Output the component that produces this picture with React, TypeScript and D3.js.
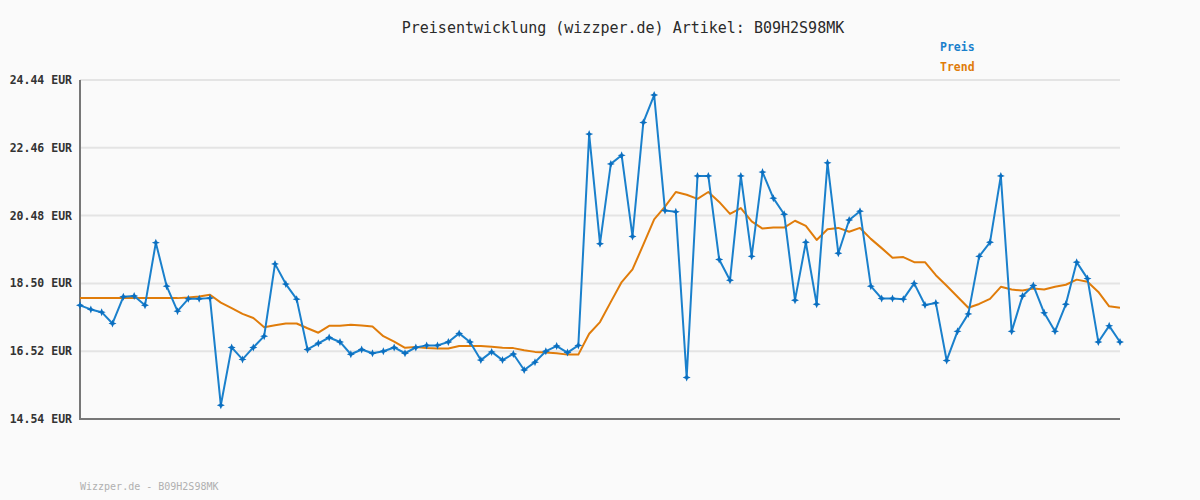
import React from "react";
import * as d3 from "d3";

const yTicks = [14.54, 16.52, 18.5, 20.48, 22.46, 24.44];

const preis = [
  17.86, 17.74, 17.66, 17.33, 18.11, 18.13, 17.86, 19.69, 18.42, 17.69,
  18.05, 18.05, 18.07, 14.94, 16.63, 16.28, 16.63, 16.96, 19.07, 18.48,
  18.04, 16.57, 16.75, 16.92, 16.79, 16.43, 16.57, 16.46, 16.52, 16.63,
  16.46, 16.63, 16.69, 16.69, 16.79, 17.04, 16.79, 16.26, 16.5, 16.26,
  16.44, 15.97, 16.2, 16.52, 16.67, 16.48, 16.69, 22.86, 19.66, 21.99,
  22.24, 19.87, 23.2, 24.0, 20.63, 20.59, 15.75, 21.64, 21.64, 19.2,
  18.59, 21.64, 19.29, 21.75, 20.99, 20.52, 18.01, 19.7, 17.89, 22.02,
  19.38, 20.35, 20.61, 18.42, 18.06, 18.06, 18.04, 18.5, 17.87, 17.93,
  16.25, 17.1, 17.61, 19.29, 19.7, 21.64, 17.1, 18.13, 18.44, 17.64,
  17.1, 17.89, 19.12, 18.64, 16.79, 17.26, 16.79,
];

const trend = [
  18.07, 18.07, 18.07, 18.07, 18.07, 18.07, 18.07, 18.07, 18.07, 18.07,
  18.09, 18.12, 18.17, 17.94, 17.78, 17.61, 17.49, 17.22, 17.28, 17.33,
  17.33, 17.19, 17.06, 17.26, 17.26, 17.29, 17.27, 17.24, 16.96, 16.8,
  16.62, 16.64, 16.61, 16.6, 16.6, 16.67, 16.67, 16.67, 16.65, 16.62,
  16.61, 16.55, 16.5, 16.48, 16.46, 16.42, 16.42, 17.03, 17.37, 17.96,
  18.54, 18.91, 19.63, 20.37, 20.74, 21.17, 21.09, 20.97, 21.17, 20.88,
  20.53, 20.7, 20.31, 20.1, 20.13, 20.13, 20.33, 20.18, 19.77, 20.08,
  20.12, 20.01, 20.12, 19.8, 19.53, 19.25, 19.27, 19.12, 19.12, 18.74,
  18.43, 18.11, 17.79, 17.9, 18.05, 18.4, 18.32, 18.29, 18.35, 18.32,
  18.4, 18.46, 18.61, 18.55, 18.25, 17.83, 17.79,
];

const title = "Preisentwicklung (wizzper.de) Artikel: B09H2S98MK";
const footer = "Wizzper.de - B09H2S98MK";

const W = 1200;
const H = 500;
const left = 80;
const right = 1120;
const top = 80;
const bottom = 419;

const BLUE = "#1a80cc";
const ORANGE = "#e07c0a";
const MONO = "'DejaVu Sans Mono', 'Liberation Mono', monospace";

export default function App() {
  const x = d3.scaleLinear().domain([0, preis.length - 1]).range([left, right]);
  const y = d3.scaleLinear().domain([14.54, 24.44]).range([bottom, top]);
  const line = d3
    .line<number>()
    .x((_, i) => x(i))
    .y((d) => y(d));

  const star = (cx: number, cy: number) =>
    `M${cx},${cy - 4}L${cx + 1.2},${cy - 1.2}L${cx + 4},${cy}L${cx + 1.2},${cy + 1.2}L${cx},${cy + 4}L${cx - 1.2},${cy + 1.2}L${cx - 4},${cy}L${cx - 1.2},${cy - 1.2}Z`;

  return (
    <svg
      width={W}
      height={H}
      style={{ position: "absolute", left: 0, top: 0, display: "block" }}
    >
      <rect x={0} y={0} width={W} height={H} fill="#fafafa" />
      <text
        x={623}
        y={33}
        textAnchor="middle"
        fontFamily={MONO}
        fontSize={15}
        fill="#2a2a2a"
      >
        {title}
      </text>
      <text x={940} y={51} fontFamily={MONO} fontSize={11.5} fontWeight="bold" fill="#1a80cc">
        Preis
      </text>
      <text x={940} y={71} fontFamily={MONO} fontSize={11.5} fontWeight="bold" fill={ORANGE}>
        Trend
      </text>
      {yTicks.map((t) => (
        <g key={t}>
          <line
            x1={left}
            x2={right}
            y1={y(t)}
            y2={y(t)}
            stroke="#e4e4e4"
            strokeWidth={2}
          />
          <text
            x={72}
            y={y(t) + 4}
            textAnchor="end"
            fontFamily={MONO}
            fontSize={11.5}
            fontWeight="bold"
            fill="#333"
          >
            {t.toFixed(2)} EUR
          </text>
        </g>
      ))}
      <path
        d={`M${left},${top}V${bottom}H${right}`}
        fill="none"
        stroke="#777"
        strokeWidth={2}
      />
      <path d={line(trend) ?? ""} fill="none" stroke={ORANGE} strokeWidth={2} strokeLinejoin="round" />
      <path d={line(preis) ?? ""} fill="none" stroke={BLUE} strokeWidth={2} strokeLinejoin="round" />
      {preis.map((v, i) => (
        <path key={i} d={star(x(i), y(v))} fill="#0b6fc0" />
      ))}
      <text x={80} y={490} fontFamily={MONO} fontSize={10} fill="#b0b0b0">
        {footer}
      </text>
    </svg>
  );
}
